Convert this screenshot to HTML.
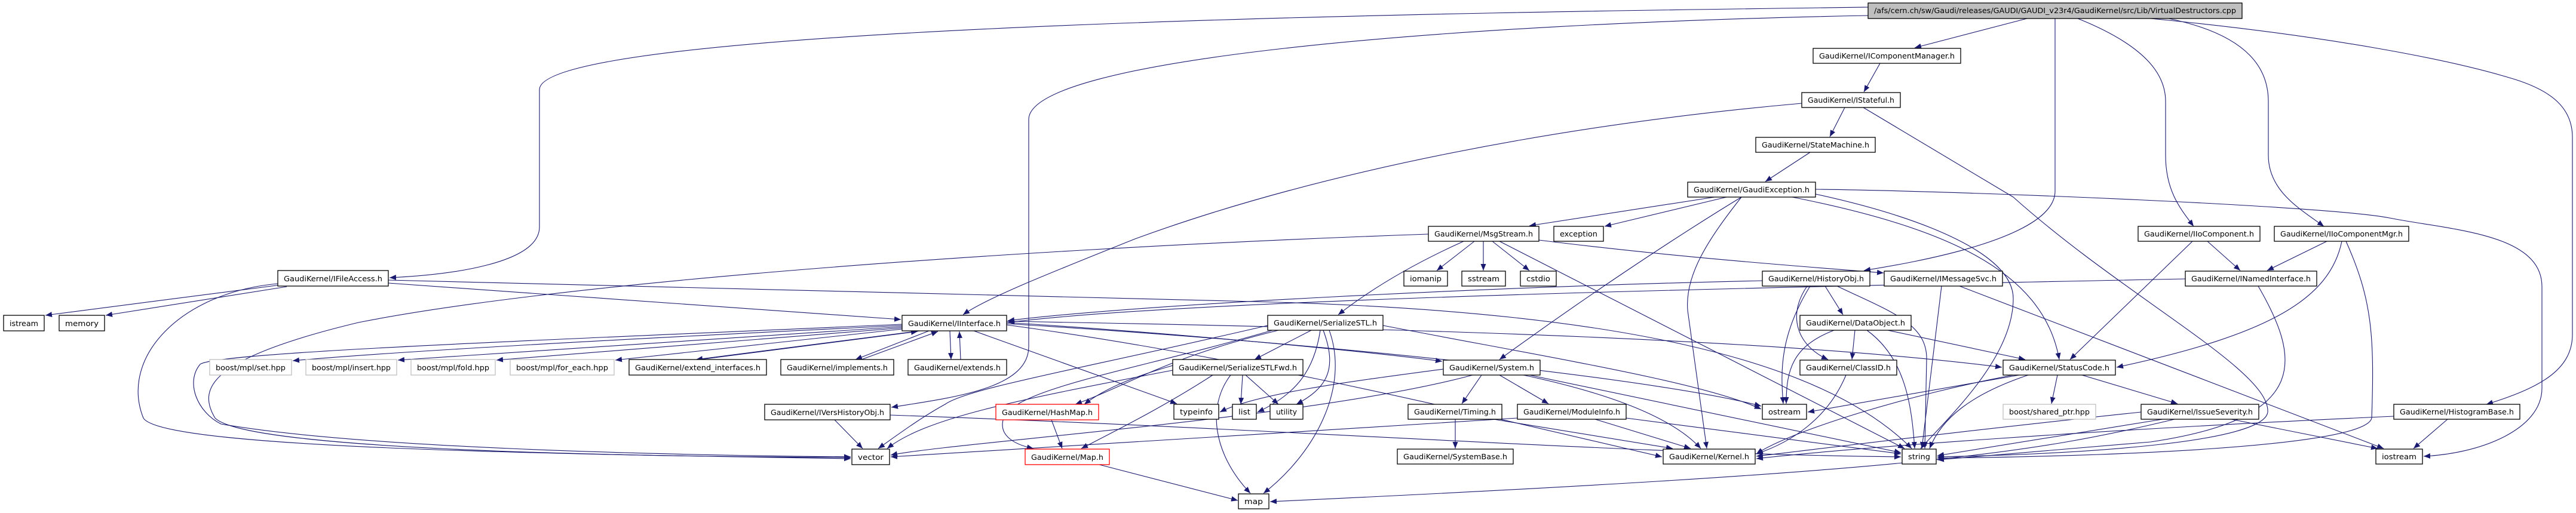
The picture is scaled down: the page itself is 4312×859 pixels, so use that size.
<!DOCTYPE html>
<html><head><meta charset="utf-8"><style>
html,body{margin:0;padding:0;background:#fff;}
svg{display:block;}
text{font-family:"DejaVu Sans Condensed","DejaVu Sans","Liberation Sans",sans-serif;font-size:12px;fill:#000;}
.n{fill:#fff;stroke:#000;stroke-width:1.3;}
.g{fill:#fff;stroke:#bfbfbf;stroke-width:1.3;}
.r{fill:#fff;stroke:#ff0000;stroke-width:1.3;}
.e path{fill:none;stroke:#191970;stroke-width:1.1;}
</style></head><body>
<svg width="4312" height="859" viewBox="0 0 4312 859" xmlns="http://www.w3.org/2000/svg">
<defs><marker id="a" markerUnits="userSpaceOnUse" markerWidth="12" markerHeight="9" refX="11" refY="4.5" orient="auto"><path d="M0,0 L11,4.5 L0,9 z" fill="#191970"/></marker></defs>
<g class="e" marker-end="url(#a)">
<path marker-end="url(#a)" d="M3127,12 C2500,20 903,40 903,150 L903,380 C903,440 760,460 652,465"/>
<path marker-end="url(#a)" d="M3127,26 C2400,40 1722,100 1722,200 L1722,580 C1722,650 1600,665 1492,682"/>
<path marker-end="url(#a)" d="M3393,31 L3205,80"/>
<path marker-end="url(#a)" d="M3440,31 L3440,320 C3440,400 3200,440 3120,453"/>
<path marker-end="url(#a)" d="M3478,31 C3600,80 3625,130 3625,170 L3625,260 C3625,320 3650,350 3672,379"/>
<path marker-end="url(#a)" d="M3630,31 C3770,60 3797,120 3797,170 L3797,260 C3797,320 3850,350 3890,379"/>
<path marker-end="url(#a)" d="M3600,31 C3900,60 4100,100 4200,130 C4270,150 4306,180 4306,230 L4306,560 C4306,620 4250,650 4162,677"/>
<path marker-end="url(#a)" d="M3147,106 L3120,154"/>
<path marker-end="url(#a)" d="M3088,180 L3063,229"/>
<path marker-end="url(#a)" d="M3016,173 C2600,210 2200,290 1900,400 C1750,460 1650,500 1612,527"/>
<path marker-end="url(#a)" d="M3119,180 L3370,330 C3560,500 3800,620 3796,690 C3790,740 3500,760 3243,765"/>
<path marker-end="url(#a)" d="M3030,255 L2955,304"/>
<path marker-end="url(#a)" d="M2870,330 L2560,378"/>
<path marker-end="url(#a)" d="M2890,330 L2686,379"/>
<path marker-end="url(#a)" d="M2915,330 C2800,400 2650,500 2510,602"/>
<path marker-end="url(#a)" d="M2915,330 C2860,400 2820,460 2825,520 L2857,751"/>
<path marker-end="url(#a)" d="M3000,330 C3250,380 3420,450 3447,602"/>
<path marker-end="url(#a)" d="M3039,325 C3200,360 3370,420 3370,500 C3370,600 3260,700 3215,751"/>
<path marker-end="url(#a)" d="M3039,317 C3300,320 3900,345 4000,365 C4100,385 4255,390 4255,480 L4255,650 C4255,720 4150,760 4057,764"/>
<path marker-end="url(#a)" d="M2468,404 L2405,453"/>
<path marker-end="url(#a)" d="M2483,404 L2483,453"/>
<path marker-end="url(#a)" d="M2498,404 L2560,453"/>
<path marker-end="url(#a)" d="M2450,404 C2370,440 2300,480 2240,527"/>
<path marker-end="url(#a)" d="M2576,402 C2800,430 3000,445 3153,457"/>
<path marker-end="url(#a)" d="M2510,404 L3188,751"/>
<path marker-end="url(#a)" d="M2391,392 C1600,420 900,480 600,540 C350,600 330,650 360,700 C420,760 1200,765 1424,766"/>
<path marker-end="url(#a)" d="M470,477 L76,528"/>
<path marker-end="url(#a)" d="M480,480 L177,528"/>
<path marker-end="url(#a)" d="M650,474 C1000,500 1300,520 1508,535"/>
<path marker-end="url(#a)" d="M650,469 L2100,505 C2700,520 3050,600 3200,751"/>
<path marker-end="url(#a)" d="M465,475 C300,490 200,600 240,700 C270,750 900,760 1424,768"/>
<path marker-end="url(#a)" d="M1510,545 C1200,560 700,585 490,604"/>
<path marker-end="url(#a)" d="M1510,547 L666,603"/>
<path marker-end="url(#a)" d="M1510,549 L831,603"/>
<path marker-end="url(#a)" d="M1510,551 L1030,603"/>
<path marker-end="url(#a)" d="M1540,554 L1165,602"/>
<path marker-end="url(#a)" d="M1172,602 L1536,555"/>
<path marker-end="url(#a)" d="M1555,554 L1432,602"/>
<path marker-end="url(#a)" d="M1442,602 L1570,555"/>
<path marker-end="url(#a)" d="M1590,554 L1592,602"/>
<path marker-end="url(#a)" d="M1608,602 L1606,555"/>
<path marker-end="url(#a)" d="M1630,554 L1970,676"/>
<path marker-end="url(#a)" d="M1685,540 C2000,560 2300,590 2414,605"/>
<path marker-end="url(#a)" d="M1685,538 C2400,550 3000,570 3351,615"/>
<path marker-end="url(#a)" d="M1685,544 C2100,600 2500,700 2782,765"/>
<path marker-end="url(#a)" d="M1685,542 C2300,580 2800,640 2948,680"/>
<path marker-end="url(#a)" d="M1510,543 C900,570 360,590 335,610 C310,640 330,690 370,710 C600,750 1100,762 1424,765"/>
<path marker-end="url(#a)" d="M1397,703 L1444,751"/>
<path marker-end="url(#a)" d="M1490,695 C2200,720 2700,760 3182,765"/>
<path marker-end="url(#a)" d="M1760,703 L1778,751"/>
<path marker-end="url(#a)" d="M1840,778 L2072,838"/>
<path marker-end="url(#a)" d="M2195,553 L2100,602"/>
<path marker-end="url(#a)" d="M2140,553 C1950,600 1900,640 1800,677"/>
<path marker-end="url(#a)" d="M1963,612 C1900,630 1850,650 1815,677"/>
<path marker-end="url(#a)" d="M2130,553 C1900,620 1700,650 1680,700 C1670,730 1700,745 1730,751"/>
<path marker-end="url(#a)" d="M2030,628 C1950,680 1870,720 1810,751"/>
<path marker-end="url(#a)" d="M2122,545 C1800,620 1620,650 1582,677 C1540,700 1500,730 1470,751"/>
<path marker-end="url(#a)" d="M1963,620 C1700,670 1550,700 1485,751"/>
<path marker-end="url(#a)" d="M2210,553 C2200,620 2170,660 2105,690"/>
<path marker-end="url(#a)" d="M2215,553 C2240,620 2220,650 2170,677"/>
<path marker-end="url(#a)" d="M2225,553 C2260,650 2200,760 2115,826"/>
<path marker-end="url(#a)" d="M2080,628 L2077,677"/>
<path marker-end="url(#a)" d="M2085,628 L2140,677"/>
<path marker-end="url(#a)" d="M2060,628 C2020,680 2030,760 2093,826"/>
<path marker-end="url(#a)" d="M2416,618 C2250,640 2100,660 2042,690"/>
<path marker-end="url(#a)" d="M2315,545 C2600,600 2850,640 2948,685"/>
<path marker-end="url(#a)" d="M2480,628 L2447,676"/>
<path marker-end="url(#a)" d="M2510,628 L2592,676"/>
<path marker-end="url(#a)" d="M2550,628 C2700,660 2800,700 2847,751"/>
<path marker-end="url(#a)" d="M2560,628 C2900,700 3100,740 3182,758"/>
<path marker-end="url(#a)" d="M2465,628 C2200,700 1600,740 1491,762"/>
<path marker-end="url(#a)" d="M2436,702 L2436,751"/>
<path marker-end="url(#a)" d="M2500,702 L2800,751"/>
<path marker-end="url(#a)" d="M2670,702 L2830,751"/>
<path marker-end="url(#a)" d="M2722,700 L3182,760"/>
<path marker-end="url(#a)" d="M2540,700 C2200,720 1700,755 1491,765"/>
<path marker-end="url(#a)" d="M2950,470 C2500,480 1900,510 1687,537"/>
<path marker-end="url(#a)" d="M3030,479 C2980,560 2980,620 2985,676"/>
<path marker-end="url(#a)" d="M3055,479 L3085,527"/>
<path marker-end="url(#a)" d="M3025,479 C2990,530 3010,580 3060,602"/>
<path marker-end="url(#a)" d="M3075,479 C3160,520 3225,540 3225,600 L3222,751"/>
<path marker-end="url(#a)" d="M3105,553 L3100,602"/>
<path marker-end="url(#a)" d="M3160,553 L3390,602"/>
<path marker-end="url(#a)" d="M3070,553 C3000,580 2990,620 2990,676"/>
<path marker-end="url(#a)" d="M3125,553 C3190,600 3200,680 3205,751"/>
<path marker-end="url(#a)" d="M3090,628 C3060,700 3000,740 2940,760"/>
<path marker-end="url(#a)" d="M3658,467 C3000,480 2000,500 1687,540"/>
<path marker-end="url(#a)" d="M3250,479 L3217,751"/>
<path marker-end="url(#a)" d="M3280,479 L3990,751"/>
<path marker-end="url(#a)" d="M3695,404 L3750,453"/>
<path marker-end="url(#a)" d="M3670,404 L3465,602"/>
<path marker-end="url(#a)" d="M3895,404 L3795,453"/>
<path marker-end="url(#a)" d="M3920,404 C3900,500 3800,560 3543,615"/>
<path marker-end="url(#a)" d="M3927,404 C3970,500 3975,560 3970,700 C3960,750 3500,765 3243,767"/>
<path marker-end="url(#a)" d="M3780,479 C3850,600 3870,700 3600,740 L3243,770"/>
<path marker-end="url(#a)" d="M3444,628 L3434,676"/>
<path marker-end="url(#a)" d="M3485,628 L3645,676"/>
<path marker-end="url(#a)" d="M3370,628 C3200,660 3000,720 2940,760"/>
<path marker-end="url(#a)" d="M3380,628 L3026,690"/>
<path marker-end="url(#a)" d="M3395,628 C3300,660 3250,700 3230,751"/>
<path marker-end="url(#a)" d="M3584,690 C3300,720 3100,745 2940,764"/>
<path marker-end="url(#a)" d="M3620,702 L3243,763"/>
<path marker-end="url(#a)" d="M3735,702 L3980,751"/>
<path marker-end="url(#a)" d="M3640,702 C3400,760 3200,790 2126,840"/>
<path marker-end="url(#a)" d="M4007,697 C3500,720 3100,750 2940,768"/>
<path marker-end="url(#a)" d="M4097,702 L4040,751"/>
</g>
<g>
<rect x="3127" y="5" width="626" height="26" fill="#bfbfbf" stroke="#000" stroke-width="1.3"/>
<text x="3137" y="22" textLength="606" lengthAdjust="spacingAndGlyphs">/afs/cern.ch/sw/Gaudi/releases/GAUDI/GAUDI_v23r4/GaudiKernel/src/Lib/VirtualDestructors.cpp</text>
</g>
<g>
<rect class="n" x="3035" y="81" width="247" height="25"/><text x="3045" y="98" textLength="227" lengthAdjust="spacingAndGlyphs">GaudiKernel/IComponentManager.h</text>
<rect class="n" x="3016" y="155" width="165" height="25"/><text x="3026" y="172" textLength="145" lengthAdjust="spacingAndGlyphs">GaudiKernel/IStateful.h</text>
<rect class="n" x="2939" y="230" width="200" height="25"/><text x="2949" y="247" textLength="180" lengthAdjust="spacingAndGlyphs">GaudiKernel/StateMachine.h</text>
<rect class="n" x="2825" y="305" width="214" height="25"/><text x="2835" y="322" textLength="194" lengthAdjust="spacingAndGlyphs">GaudiKernel/GaudiException.h</text>
<rect class="n" x="2391" y="379" width="185" height="25"/><text x="2401" y="396" textLength="165" lengthAdjust="spacingAndGlyphs">GaudiKernel/MsgStream.h</text>
<rect class="n" x="2601" y="379" width="83" height="25"/><text x="2611" y="396" textLength="63" lengthAdjust="spacingAndGlyphs">exception</text>
<rect class="n" x="3579" y="379" width="204" height="25"/><text x="3589" y="396" textLength="184" lengthAdjust="spacingAndGlyphs">GaudiKernel/IIoComponent.h</text>
<rect class="n" x="3807" y="379" width="225" height="25"/><text x="3817" y="396" textLength="205" lengthAdjust="spacingAndGlyphs">GaudiKernel/IIoComponentMgr.h</text>
<rect class="n" x="465" y="453" width="185" height="26"/><text x="475" y="471" textLength="165" lengthAdjust="spacingAndGlyphs">GaudiKernel/IFileAccess.h</text>
<rect class="n" x="2350" y="454" width="73" height="25"/><text x="2360" y="471" textLength="53" lengthAdjust="spacingAndGlyphs">iomanip</text>
<rect class="n" x="2447" y="454" width="73" height="25"/><text x="2457" y="471" textLength="53" lengthAdjust="spacingAndGlyphs">sstream</text>
<rect class="n" x="2545" y="454" width="60" height="25"/><text x="2555" y="471" textLength="40" lengthAdjust="spacingAndGlyphs">cstdio</text>
<rect class="n" x="2950" y="454" width="180" height="25"/><text x="2960" y="471" textLength="160" lengthAdjust="spacingAndGlyphs">GaudiKernel/HistoryObj.h</text>
<rect class="n" x="3154" y="454" width="198" height="25"/><text x="3164" y="471" textLength="178" lengthAdjust="spacingAndGlyphs">GaudiKernel/IMessageSvc.h</text>
<rect class="n" x="3658" y="454" width="220" height="25"/><text x="3668" y="471" textLength="200" lengthAdjust="spacingAndGlyphs">GaudiKernel/INamedInterface.h</text>
<rect class="n" x="6" y="528" width="68" height="26"/><text x="16" y="546" textLength="48" lengthAdjust="spacingAndGlyphs">istream</text>
<rect class="n" x="99" y="528" width="76" height="26"/><text x="109" y="546" textLength="56" lengthAdjust="spacingAndGlyphs">memory</text>
<rect class="n" x="1510" y="528" width="175" height="26"/><text x="1520" y="546" textLength="155" lengthAdjust="spacingAndGlyphs">GaudiKernel/IInterface.h</text>
<rect class="n" x="2122" y="528" width="193" height="25"/><text x="2132" y="545" textLength="173" lengthAdjust="spacingAndGlyphs">GaudiKernel/SerializeSTL.h</text>
<rect class="n" x="3013" y="528" width="186" height="25"/><text x="3023" y="545" textLength="166" lengthAdjust="spacingAndGlyphs">GaudiKernel/DataObject.h</text>
<rect class="g" x="351" y="602" width="137" height="26"/><text x="361" y="620" textLength="117" lengthAdjust="spacingAndGlyphs">boost/mpl/set.hpp</text>
<rect class="g" x="512" y="602" width="152" height="26"/><text x="522" y="620" textLength="132" lengthAdjust="spacingAndGlyphs">boost/mpl/insert.hpp</text>
<rect class="g" x="688" y="602" width="141" height="26"/><text x="698" y="620" textLength="121" lengthAdjust="spacingAndGlyphs">boost/mpl/fold.hpp</text>
<rect class="g" x="854" y="602" width="174" height="26"/><text x="864" y="620" textLength="154" lengthAdjust="spacingAndGlyphs">boost/mpl/for_each.hpp</text>
<rect class="n" x="1053" y="602" width="230" height="26"/><text x="1063" y="620" textLength="210" lengthAdjust="spacingAndGlyphs">GaudiKernel/extend_interfaces.h</text>
<rect class="n" x="1307" y="602" width="189" height="26"/><text x="1317" y="620" textLength="169" lengthAdjust="spacingAndGlyphs">GaudiKernel/implements.h</text>
<rect class="n" x="1520" y="602" width="165" height="26"/><text x="1530" y="620" textLength="145" lengthAdjust="spacingAndGlyphs">GaudiKernel/extends.h</text>
<rect class="n" x="1963" y="602" width="218" height="26"/><text x="1973" y="620" textLength="198" lengthAdjust="spacingAndGlyphs">GaudiKernel/SerializeSTLFwd.h</text>
<rect class="n" x="2416" y="603" width="162" height="25"/><text x="2426" y="620" textLength="142" lengthAdjust="spacingAndGlyphs">GaudiKernel/System.h</text>
<rect class="n" x="3013" y="603" width="162" height="25"/><text x="3023" y="620" textLength="142" lengthAdjust="spacingAndGlyphs">GaudiKernel/ClassID.h</text>
<rect class="n" x="3353" y="603" width="188" height="25"/><text x="3363" y="620" textLength="168" lengthAdjust="spacingAndGlyphs">GaudiKernel/StatusCode.h</text>
<rect class="n" x="1280" y="677" width="210" height="26"/><text x="1290" y="695" textLength="190" lengthAdjust="spacingAndGlyphs">GaudiKernel/IVersHistoryObj.h</text>
<rect class="r" x="1667" y="677" width="172" height="26"/><text x="1677" y="695" textLength="152" lengthAdjust="spacingAndGlyphs">GaudiKernel/HashMap.h</text>
<rect class="n" x="1965" y="677" width="75" height="25"/><text x="1975" y="694" textLength="55" lengthAdjust="spacingAndGlyphs">typeinfo</text>
<rect class="n" x="2063" y="677" width="40" height="25"/><text x="2073" y="694" textLength="20" lengthAdjust="spacingAndGlyphs">list</text>
<rect class="n" x="2126" y="677" width="55" height="25"/><text x="2136" y="694" textLength="35" lengthAdjust="spacingAndGlyphs">utility</text>
<rect class="n" x="2357" y="677" width="157" height="25"/><text x="2367" y="694" textLength="137" lengthAdjust="spacingAndGlyphs">GaudiKernel/Timing.h</text>
<rect class="n" x="2540" y="677" width="182" height="25"/><text x="2550" y="694" textLength="162" lengthAdjust="spacingAndGlyphs">GaudiKernel/ModuleInfo.h</text>
<rect class="n" x="2950" y="677" width="74" height="25"/><text x="2960" y="694" textLength="54" lengthAdjust="spacingAndGlyphs">ostream</text>
<rect class="g" x="3353" y="677" width="155" height="25"/><text x="3363" y="694" textLength="135" lengthAdjust="spacingAndGlyphs">boost/shared_ptr.hpp</text>
<rect class="n" x="3584" y="677" width="197" height="25"/><text x="3594" y="694" textLength="177" lengthAdjust="spacingAndGlyphs">GaudiKernel/IssueSeverity.h</text>
<rect class="n" x="4007" y="677" width="211" height="25"/><text x="4017" y="694" textLength="191" lengthAdjust="spacingAndGlyphs">GaudiKernel/HistogramBase.h</text>
<rect class="n" x="1426" y="752" width="63" height="26"/><text x="1436" y="770" textLength="43" lengthAdjust="spacingAndGlyphs">vector</text>
<rect class="r" x="1716" y="752" width="141" height="26"/><text x="1726" y="770" textLength="121" lengthAdjust="spacingAndGlyphs">GaudiKernel/Map.h</text>
<rect class="n" x="2339" y="752" width="194" height="25"/><text x="2349" y="769" textLength="174" lengthAdjust="spacingAndGlyphs">GaudiKernel/SystemBase.h</text>
<rect class="n" x="2784" y="752" width="154" height="25"/><text x="2794" y="769" textLength="134" lengthAdjust="spacingAndGlyphs">GaudiKernel/Kernel.h</text>
<rect class="n" x="3184" y="752" width="57" height="25"/><text x="3194" y="769" textLength="37" lengthAdjust="spacingAndGlyphs">string</text>
<rect class="n" x="3977" y="752" width="78" height="25"/><text x="3987" y="769" textLength="58" lengthAdjust="spacingAndGlyphs">iostream</text>
<rect class="n" x="2073" y="827" width="51" height="25"/><text x="2083" y="844" textLength="31" lengthAdjust="spacingAndGlyphs">map</text>
</g>
</svg>
</body></html>
